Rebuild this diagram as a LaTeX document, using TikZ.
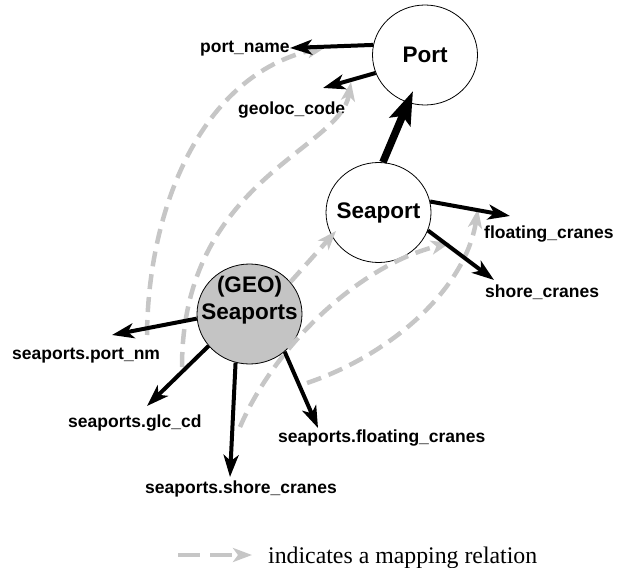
\documentclass[tikz,border=0pt]{standalone}
\usepackage{fontspec}
\setmainfont{Liberation Serif}
\setsansfont{Liberation Sans}
\usetikzlibrary{arrows.meta,shapes.geometric}
\definecolor{mapgray}{RGB}{198,198,198}
\definecolor{entgray}{RGB}{196,196,196}
\tikzset{
  entity/.style={ellipse,draw=black,line width=0.8pt,minimum width=105pt,minimum height=100pt,inner sep=0pt},
  entname/.style={font=\sffamily\bfseries\fontsize{22.5}{27}\selectfont,align=center,inner sep=0pt},
  attr/.style={font=\sffamily\bfseries\fontsize{17.5}{20}\selectfont,inner sep=0pt,anchor=base west},
  hasattr/.style={line width=4pt,-{Stealth[length=22pt,width=15pt,inset=6pt]}},
  isa/.style={line width=7.5pt,-{Stealth[length=33pt,width=22pt,inset=6pt]}},
  mapping/.style={draw=mapgray,line width=4.5pt,dash pattern=on 15pt off 8pt,
    -{Stealth[length=19pt,width=14pt,inset=5pt,fill=mapgray,color=mapgray]}}
}
\begin{document}
\begin{tikzpicture}[x=1pt,y=-1pt]
\useasboundingbox (0,0) rectangle (617,567);

% entities
\node[entity,fill=white] (port) at (425,55) {};
\node[entname] (porttxt) at (425,55) {Port};
\node[entity,fill=white] (seaport) at (378.5,212.5) {};
\node[entname] (seaporttxt) at (378.5,212.5) {Seaport};
\node[entity,fill=entgray] (geo) at (249.5,314) {};
\node[entname] (geotxt) at (249.5,300) {(GEO)\\Seaports};

% attributes
\node[attr] (portname) at (200,53) {port\_name};
\node[attr] (geoloc) at (238,114) {geoloc\_code};
\node[attr] (floating) at (484,238) {floating\_cranes};
\node[attr] (shore) at (485,297) {shore\_cranes};
\node[attr] (sportnm) at (12,359) {seaports.port\_nm};
\node[attr] (sglc) at (68,427) {seaports.glc\_cd};
\node[attr] (sfloat) at (278,442) {seaports.floating\_cranes};
\node[attr] (sshore) at (145,493) {seaports.shore\_cranes};

% arrow ends
\coordinate (tPortName) at (290,48);
\coordinate (tGeoloc) at (323,88);
\coordinate (tPort) at (413,91);
\coordinate (tFloat) at (510,216);
\coordinate (tShore) at (494,280);
\coordinate (tPortNm) at (112,335);
\coordinate (tGlc) at (147,406);
\coordinate (tShoreS) at (230,477);
\coordinate (tFloatS) at (318,428);

% mapping ends
\coordinate (sPortNm) at (147,335);
\coordinate (gPortName) at (326,47);
\coordinate (sGlc) at (182,367);
\coordinate (gGeoloc) at (351,82);
\coordinate (gSeaport) at (336,231);
\coordinate (sShore) at (240,427);
\coordinate (gShore) at (450,243);
\coordinate (sFloat) at (307,383);
\coordinate (gFloat) at (478,209);

% mapping relations
\draw[mapping] (sPortNm) .. controls (148,210) and (200,75) .. (gPortName);
\draw[mapping] (sGlc) .. controls (182,180) and (340,150) .. (gGeoloc);
\draw[mapping] (geo.38.8) -- (gSeaport);
\draw[mapping] (sShore) .. controls (275,345) and (360,265) .. (gShore);
\draw[mapping] (sFloat) .. controls (390,355) and (465,290) .. (gFloat);

% attribute and subclass links
\draw[hasattr] (port.169.3) -- (tPortName);
\draw[hasattr] (port.200.7) -- (tGeoloc);
\draw[isa] (seaport.85) -- (tPort);
\draw[hasattr] (seaport.12) -- (tFloat);
\draw[hasattr] (seaport.340.5) -- (tShore);
\draw[hasattr] (geo.185) -- (tPortNm);
\draw[hasattr] (geo.218.7) -- (tGlc);
\draw[hasattr] (geo.254) -- (tShoreS);
\draw[hasattr] (geo.313) -- (tFloatS);

% legend
\coordinate (legA) at (178,555);
\coordinate (legB) at (252,555);
\draw[mapping,dash pattern=on 22pt off 10pt] (legA) -- (legB);
\node[font=\fontsize{23.8}{26}\selectfont,inner sep=0pt,anchor=base west] (legtxt) at (268,563) {indicates a mapping relation};
\end{tikzpicture}
\end{document}
